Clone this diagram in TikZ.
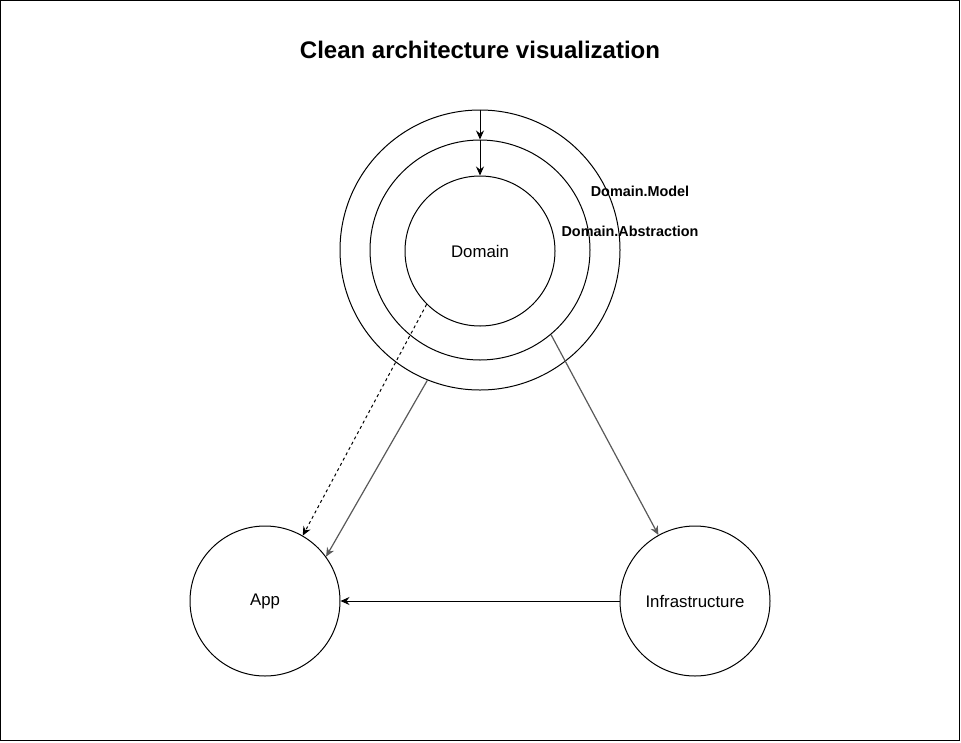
\documentclass[tikz,border=0pt]{standalone}
\usepackage{fontspec}
\setmainfont{Liberation Sans}
\usetikzlibrary{arrows.meta}
\begin{document}
\begin{tikzpicture}[x=1pt,y=-1pt,
  ring/.style={draw=black,line width=1pt,circle,inner sep=0pt},
  lbl/.style={font=\fontsize{16.8}{19}\selectfont,text=black},
  small/.style={font=\bfseries\fontsize{14.4}{16}\selectfont,text=black,inner sep=0pt},
  tip/.style={-{Stealth[length=9pt,width=8pt,inset=3pt]}},
  conn/.style={tip,line width=1pt,draw=black},
  gconn/.style={tip,line width=1.2pt,draw=black!65,color=black!65},
]
\useasboundingbox (0,0) rectangle (961,742);
\draw[line width=1pt] (0.5,0.5) rectangle (959.5,740.5);
\node[font=\bfseries\fontsize{24}{28}\selectfont] (title) at (480,50) {Clean architecture visualization};
\node[ring,minimum size=280pt] (outer) at (480,250) {};
\node[ring,minimum size=220pt] (middle) at (480,250) {};
\node[ring,minimum size=150pt,lbl] (inner) at (480,251) {Domain};
\node[ring,minimum size=150pt,lbl] (app) at (265,601) {App};
\node[ring,minimum size=150pt,lbl] (infra) at (695,601) {Infrastructure};
\node[small] (model) at (640,191) {Domain.Model};
\node[small] (abs) at (630,231) {Domain.Abstraction};
\draw[conn] (outer.north) -- (middle.north);
\draw[conn] (middle.north) -- (inner.north);
\draw[conn,dashed,dash pattern=on 3pt off 3pt] (inner.-135) -- (app.60.7);
\draw[gconn] (outer.-112.8) -- (app.36.6);
\draw[gconn] (middle.-50.8) -- (infra.119.3);
\draw[conn] (infra.west) -- (app.east);
\end{tikzpicture}
\end{document}
